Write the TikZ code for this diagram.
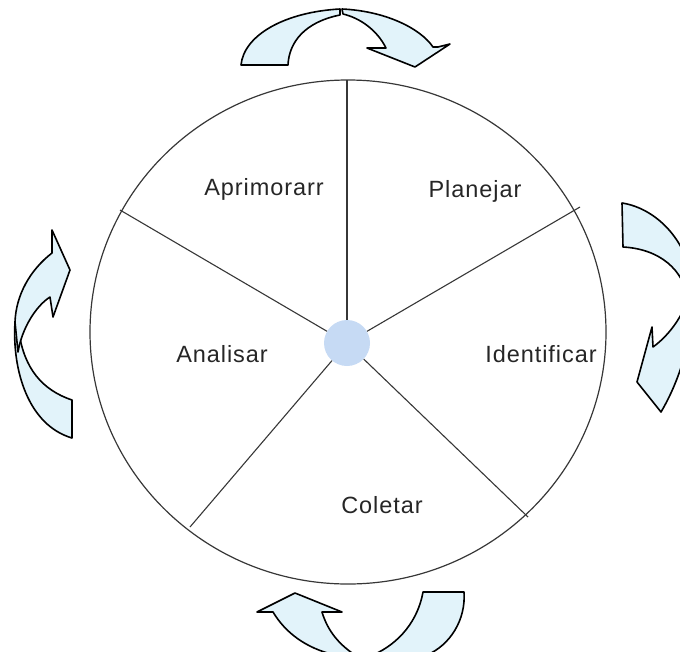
\documentclass[tikz,border=0pt]{standalone}
\usepackage{fontspec}
\newfontfamily\lblfont{Liberation Sans}[LetterSpace=4]
\usepackage{tikz}
\usetikzlibrary{positioning}
\definecolor{rimgray}{RGB}{55,55,55}
\definecolor{txtgray}{RGB}{38,38,38}
\definecolor{arrfill}{RGB}{226,243,250}
\definecolor{hubblue}{RGB}{198,218,244}
\tikzset{
  rim/.style={rimgray, line width=1.2pt},
  spoke/.style={rimgray, line width=1.1pt},
  hubdot/.style={circle, fill=hubblue, draw=none, inner sep=0pt, minimum size=46pt},
  lbl/.style={anchor=base, text=txtgray, font=\lblfont\fontsize{23.5}{28}\selectfont, inner sep=0pt},
  carr/.style={fill=arrfill, draw=black, line width=1.6pt, line join=round},
}

\begin{document}
\begin{tikzpicture}[x=1pt,y=-1pt]
  \useasboundingbox (0,0) rectangle (680,651);
  \clip (0,0) rectangle (680,651);
  % wheel
  \draw[rim] (348,332) ellipse [x radius=258pt, y radius=252pt];
  \node[hubdot] (hub) at (347,343) {};
  \coordinate (rimT) at (347,80);
  \coordinate (rimR) at (580,207);
  \coordinate (rimL) at (120,210);
  \coordinate (rimBL) at (190,527);
  \coordinate (rimBR) at (528,517);
  \foreach \r in {rimT,rimR,rimL,rimBL,rimBR}
    \draw[spoke] (hub) -- (\r);
  \node[lbl] (aprim) at (264,195) {Aprimorarr};
  \node[lbl] (plan) at (475,197) {Planejar};
  \node[lbl] (anal) at (222,362) {Analisar};
  \node[lbl] (ident) at (541,362) {Identificar};
  \node[lbl] (colet) at (382,513) {Coletar};
  % top arrow
  \draw[carr] (241,65) .. controls (244,35) and (285,12) .. (340,9)
    -- (340,15) .. controls (305,22) and (289,42) .. (288,65) -- cycle;
  \draw[carr] (342,9) .. controls (385,11) and (420,28) .. (433,47)
    -- (438,47) -- (450,44) -- (415,67) -- (367,48) -- (386,48)
    .. controls (377,30) and (360,18) .. (343,14) -- cycle;
  % right arrow
  \draw[carr] (622,203) .. controls (655,208) and (690,240) .. (693,290)
    .. controls (694,335) and (680,380) .. (661,412)
    -- (637,382) -- (652,327) -- (653,347)
    .. controls (668,336) and (680,320) .. (688,300)
    .. controls (684,270) and (660,249) .. (623,247) -- cycle;
  % left arrow
  \draw[carr] (15,322) .. controls (12,370) and (28,425) .. (72,438)
    -- (72,400) .. controls (42,390) and (24,368) .. (19,332) -- cycle;
  \draw[carr] (52,230) -- (52,253) .. controls (30,270) and (16,295) .. (15,322)
    -- (18,352) .. controls (22,328) and (36,306) .. (50,297)
    -- (53,317) -- (70,270) -- cycle;
  % bottom arrow
  \draw[carr] (295,593) -- (342,612) -- (322,612)
    .. controls (328,632) and (340,645) .. (355,655) -- (335,655)
    .. controls (305,648) and (285,632) .. (273,612) -- (257,612) -- cycle;
  \draw[carr] (423,592) -- (464,592) .. controls (466,620) and (450,645) .. (427,655)
    -- (373,655) .. controls (400,643) and (418,620) .. (423,592) -- cycle;
\end{tikzpicture}
\end{document}
